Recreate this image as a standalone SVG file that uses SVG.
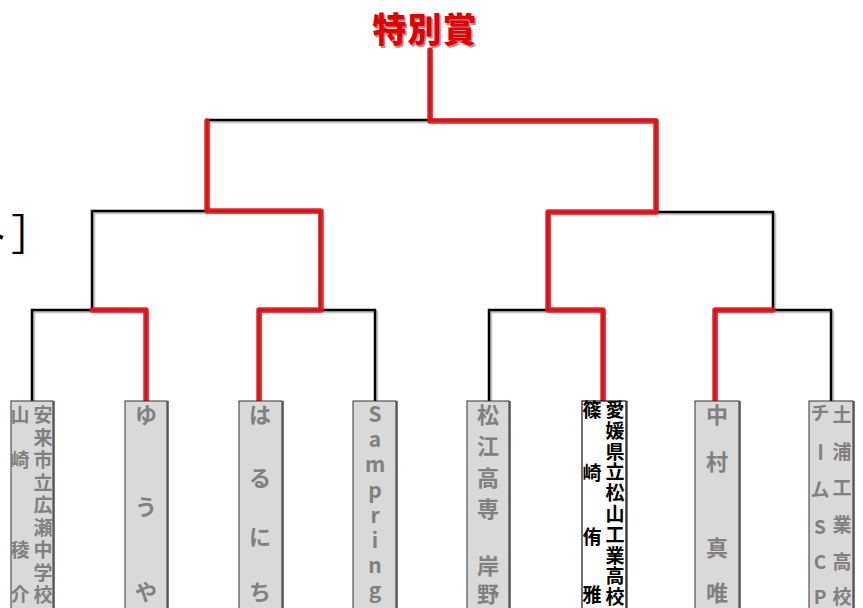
<svg xmlns="http://www.w3.org/2000/svg" width="863" height="608" viewBox="0 0 863 608">
<style>
.bg{fill:#fff}
.sh{fill:#7a7a7a}
.box{fill:#d9d9d9;stroke:#333;stroke-width:1}
.boxw{fill:#fff;stroke:#111;stroke-width:1.2}
.t{font-family:"Noto Sans CJK JP","Noto Sans",sans-serif;font-weight:bold;fill:#808080;text-anchor:middle}
.tb{font-family:"Noto Sans CJK JP","Noto Sans",sans-serif;font-weight:bold;fill:#000;text-anchor:middle}
.ln{fill:none;stroke:#000;stroke-width:2.5;stroke-linejoin:miter}
.lsh{fill:none;stroke:#c4c4c4;stroke-width:2.5}
.win{fill:none;stroke:#e8141c;stroke-width:5.5;stroke-linecap:round;stroke-linejoin:round;opacity:0.92}
</style>
<rect class="bg" x="0" y="0" width="863" height="608"/>

<g id="title">
  <text x="426.5" y="43.5" font-family="'Noto Sans CJK JP',sans-serif" font-weight="900" font-size="34" fill="#7a0000" opacity="0.45" text-anchor="middle" letter-spacing="1">特別賞</text>
  <text x="425" y="42" font-family="'Noto Sans CJK JP',sans-serif" font-weight="900" font-size="34" fill="#e00000" text-anchor="middle" letter-spacing="1">特別賞</text>
</g>

<g id="side-label">
  <text x="-33 11" y="251" font-family="'Noto Sans CJK JP',sans-serif" font-size="43" fill="#000">ト］</text>
</g>

<g id="connectors">
  <g transform="translate(2,2)">
    <path class="lsh" d="M430,48 V120 M207,210 V120 H656 V211 M92,310 V211 H320 V310 M548,310 V212 H773 V310 M32,401 V310 H146 V401 M259,401 V310 H375 V401 M489,401 V310 H603 V401 M715,401 V310 H831 V401"/>
  </g>
  <path class="ln" d="M430,48 V120 M207,210 V120 H656 V211 M92,310 V211 H320 V310 M548,310 V212 H773 V310 M32,401 V310 H146 V401 M259,401 V310 H375 V401 M489,401 V310 H603 V401 M715,401 V310 H831 V401"/>
  <path class="win" d="M430,50 V121 H656 V212 H548 V310 H603 V401"/>
  <path class="win" d="M207,121 V211 H321 V310 H259 V401"/>
  <path class="win" d="M92,310 H146 V401"/>
  <path class="win" d="M773,310 H715 V401"/>
</g>

<g id="node-1">
  <rect class="sh" x="13" y="401" width="42" height="220"/>
  <rect class="box" x="11" y="401" width="42" height="220"/>
  <text class="t" font-size="19" x="43 43 43 43 43 43 43 43 43" y="422 444.5 467 489.5 512 534.5 557 579.5 602">安来市立広瀬中学校</text>
  <text class="t" font-size="19" x="20 20 20 20" y="422 467 557 602">山崎稜介</text>
</g>

<g id="node-2">
  <rect class="sh" x="127" y="401" width="42" height="220"/>
  <rect class="box" x="125" y="401" width="42" height="220"/>
  <text class="t" font-size="22" x="146 146 146" y="423 515 600">ゆうや</text>
</g>

<g id="node-3">
  <rect class="sh" x="241" y="401" width="43" height="220"/>
  <rect class="box" x="239" y="401" width="43" height="220"/>
  <text class="t" font-size="22" x="260 260 260 260" y="423 486 545 600">はるにち</text>
</g>

<g id="node-4">
  <rect class="sh" x="355" y="401" width="43" height="220"/>
  <rect class="box" x="353" y="401" width="43" height="220"/>
  <text class="t" font-size="21" x="375 375 375 375 375 375 375 375" y="422 447.2 472.4 497.6 522.8 548 573.2 598.4">Sampring</text>
</g>

<g id="node-5">
  <rect class="sh" x="469" y="401" width="42" height="220"/>
  <rect class="box" x="467" y="401" width="42" height="220"/>
  <text class="t" font-size="22" x="488 488 488 488 488 488" y="423 454 486 517 574 602">松江高専岸野</text>
</g>

<g id="node-6">
  <rect class="sh" x="584" y="401" width="44" height="220"/>
  <rect class="boxw" x="582" y="401" width="44" height="220"/>
  <text class="tb" font-size="19" x="615 615 615 615 615 615 615 615 615 615" y="417 437.8 458.6 479.4 500.2 521 541.8 562.6 583.4 604.2">愛媛県立松山工業高校</text>
  <text class="tb" font-size="19" x="592 592 592 592" y="417 480 544 602">篠崎侑雅</text>
</g>

<g id="node-7">
  <rect class="sh" x="697" y="401" width="44" height="220"/>
  <rect class="box" x="695" y="401" width="44" height="220"/>
  <text class="t" font-size="22" x="717 717 717 717" y="423 470 556 601">中村真唯</text>
</g>

<g id="node-8">
  <rect class="sh" x="811" y="401" width="44" height="220"/>
  <rect class="box" x="809" y="401" width="44" height="220"/>
  <text class="t" font-size="19" x="842 842 842 842 842 842" y="422 459 495 532 569 604">土浦工業高校</text>
  <text class="t" font-size="19" x="820" y="420">チ</text>
  <text class="t" font-size="19" x="820" y="459" transform="rotate(90 820 452)">ー</text>
  <text class="t" font-size="19" x="820 820 820 820" y="497 534 569 604">ムSCP</text>
</g>
</svg>
